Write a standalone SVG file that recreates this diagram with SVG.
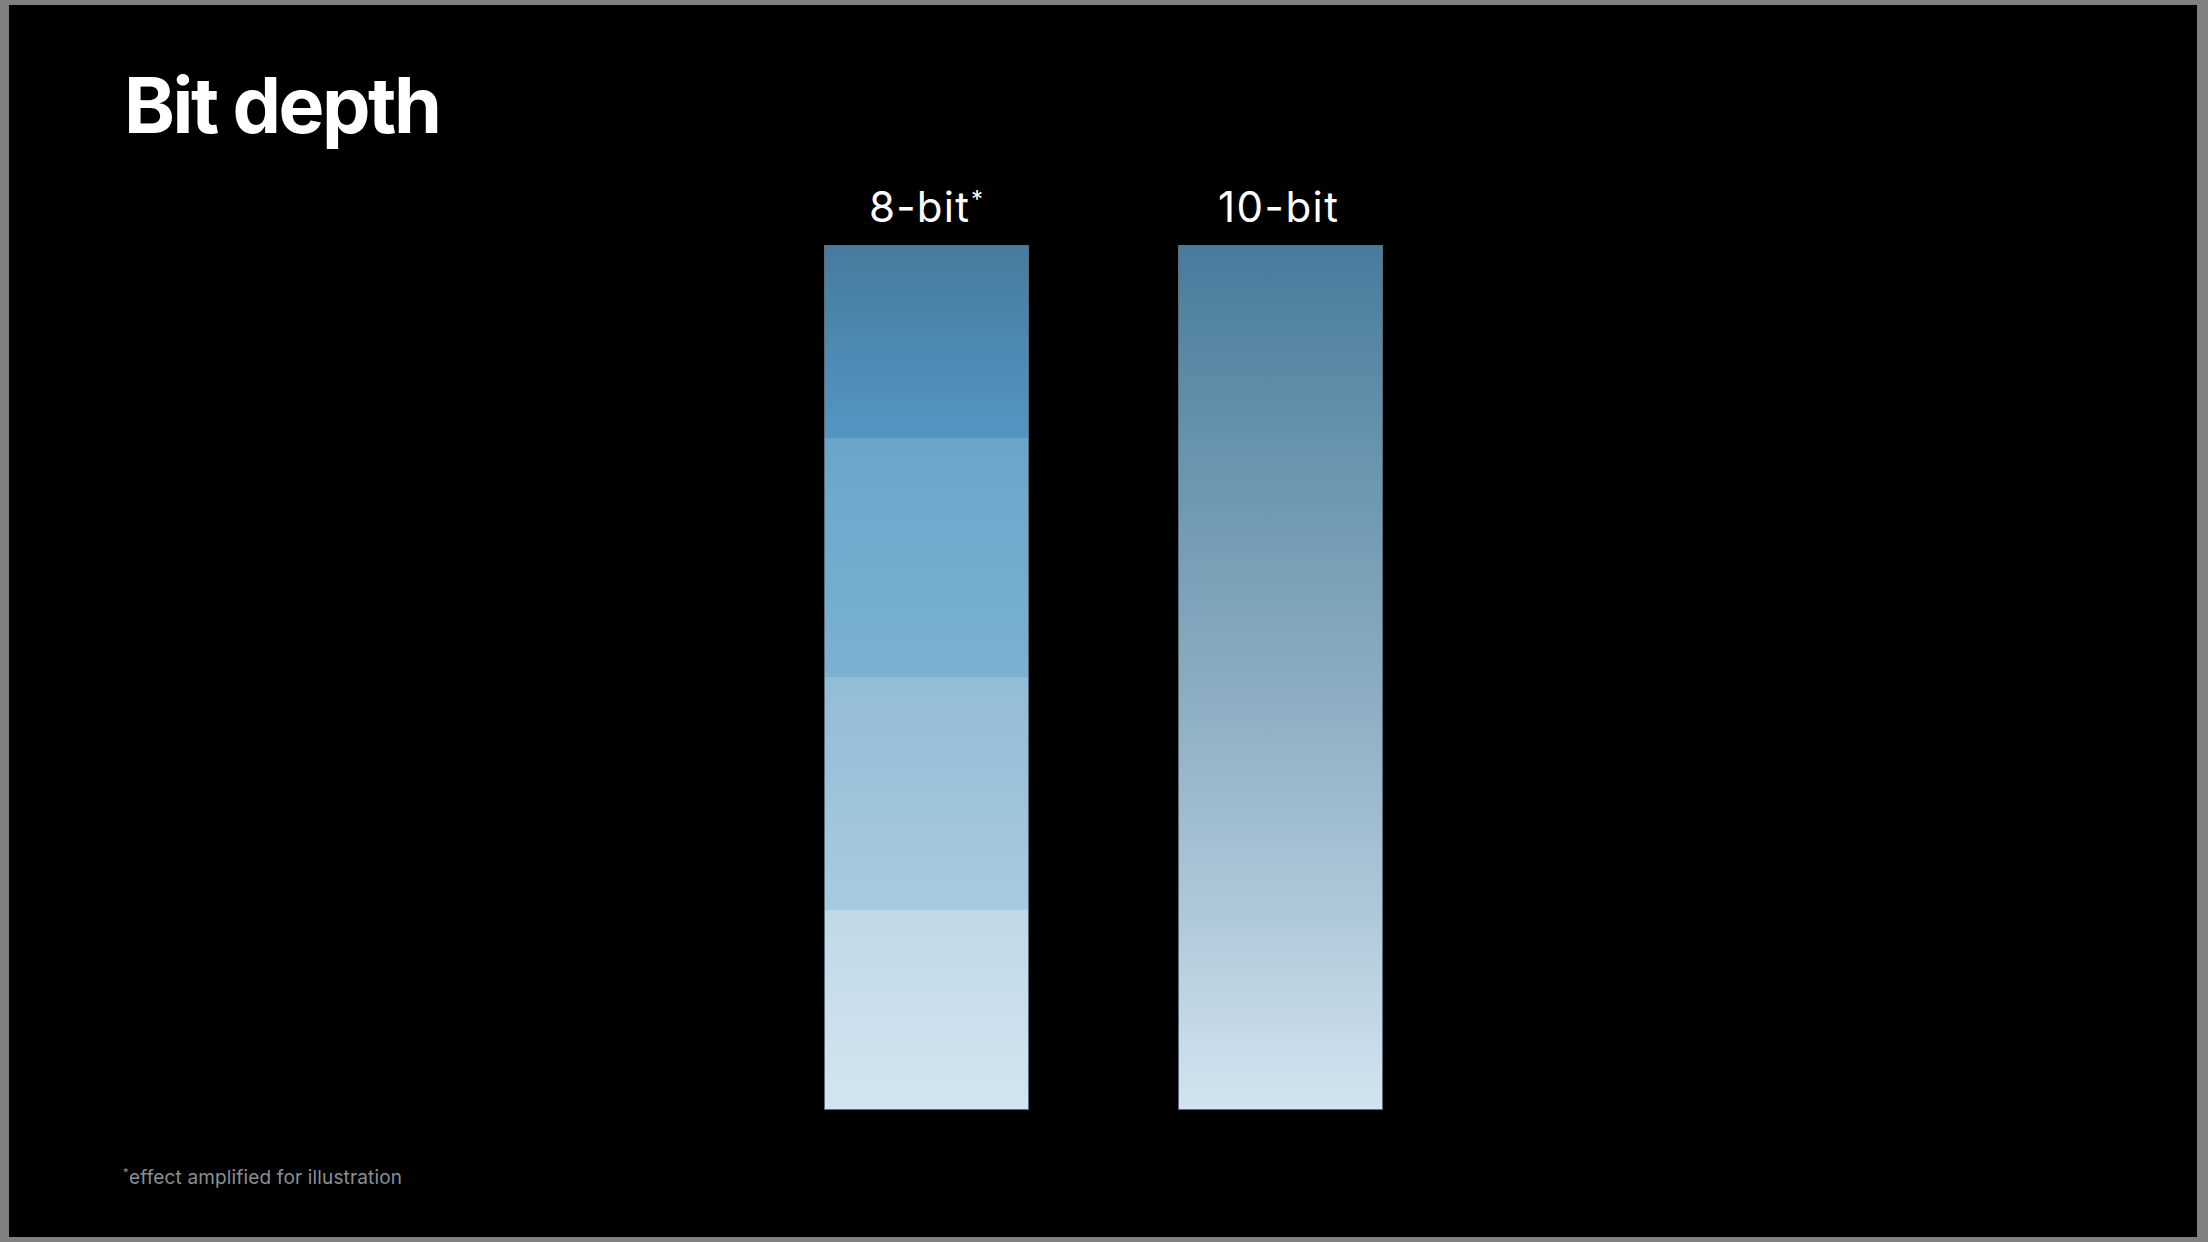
<svg xmlns="http://www.w3.org/2000/svg" width="2208" height="1242" viewBox="0 0 2208 1242">
  <style>
    .title { font-family: Inter, "Liberation Sans", sans-serif; font-weight: 700; font-size: 77px; fill: #ffffff; }
    .label { font-family: Inter, "Liberation Sans", sans-serif; font-weight: 400; font-size: 42px; fill: #ffffff; }
    .sup { font-family: Inter, "Liberation Sans", sans-serif; font-weight: 400; font-size: 24px; fill: #ffffff; }
    .note { font-family: Inter, "Liberation Sans", sans-serif; font-weight: 400; font-size: 19px; fill: #8a8f96; }
    .notesup { font-family: Inter, "Liberation Sans", sans-serif; font-size: 11px; fill: #8a8f96; }
    .edge { fill: none; stroke: #5a6c7a; stroke-width: 1; }
  </style>
  <defs>
    <linearGradient id="b1" x1="0" y1="0" x2="0" y2="1">
      <stop offset="0" stop-color="#477b9d"/>
      <stop offset="1" stop-color="#5396c3"/>
    </linearGradient>
    <linearGradient id="b2" x1="0" y1="0" x2="0" y2="1">
      <stop offset="0" stop-color="#6aa5c9"/>
      <stop offset="1" stop-color="#7bb1d1"/>
    </linearGradient>
    <linearGradient id="b3" x1="0" y1="0" x2="0" y2="1">
      <stop offset="0" stop-color="#93bcd7"/>
      <stop offset="1" stop-color="#a7cae0"/>
    </linearGradient>
    <linearGradient id="b4" x1="0" y1="0" x2="0" y2="1">
      <stop offset="0" stop-color="#c0d8e7"/>
      <stop offset="1" stop-color="#d3e4ef"/>
    </linearGradient>
    <linearGradient id="g10" x1="0" y1="0" x2="0" y2="1">
      <stop offset="0" stop-color="#477b9c"/>
      <stop offset="0.2" stop-color="#6290ab"/>
      <stop offset="0.5" stop-color="#89abc0"/>
      <stop offset="0.76" stop-color="#adc7d8"/>
      <stop offset="1" stop-color="#d3e4ef"/>
    </linearGradient>
  </defs>

  <rect x="0" y="0" width="2208" height="1242" fill="#808080"/>
  <rect x="9" y="5" width="2188" height="1232" fill="#000000"/>

  <g id="title">
    <text class="title" x="124" y="133" textLength="318">Bit depth</text>
  </g>

  <g id="bar-8bit">
    <text class="label" x="869" y="222" textLength="100">8-bit</text>
    <text class="sup" x="971" y="208">*</text>
    <rect x="824" y="245" width="205" height="194" fill="url(#b1)"/>
    <rect x="824" y="438" width="205" height="240" fill="url(#b2)"/>
    <rect x="824" y="677" width="205" height="234" fill="url(#b3)"/>
    <rect x="824" y="910" width="205" height="200" fill="url(#b4)"/>
    <rect class="edge" x="824.5" y="245.5" width="204" height="864"/>
  </g>

  <g id="bar-10bit">
    <text class="label" x="1218" y="222" textLength="120">10-bit</text>
    <rect x="1178" y="245" width="205" height="865" fill="url(#g10)"/>
    <rect class="edge" x="1178.5" y="245.5" width="204" height="864"/>
  </g>

  <g id="footnote">
    <text class="notesup" x="123" y="1176">*</text>
    <text class="note" x="129" y="1184" textLength="273">effect amplified for illustration</text>
  </g>

  <g id="connectors"/>
</svg>
